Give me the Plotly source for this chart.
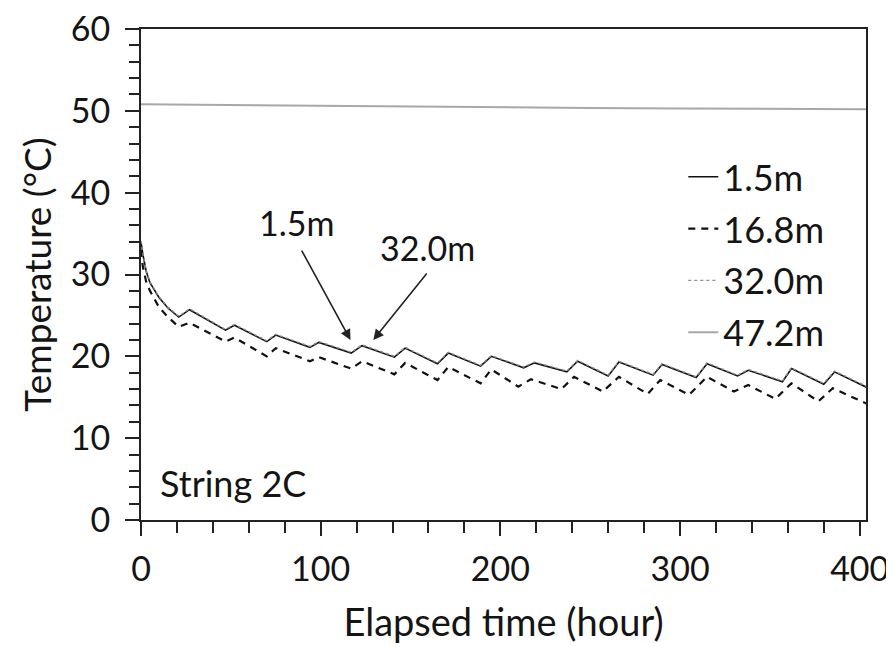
import plotly.graph_objects as go

# ---- data ----
t_15 = [0, 1, 3, 5, 10, 15, 21, 27, 47, 52, 70, 75, 94, 99, 117, 123, 141, 147, 165, 171,
        189, 195, 213, 219, 237, 243, 260, 266, 285, 290, 309, 315, 332, 338, 357, 362, 380, 386, 404]
v_15 = [34.0, 32.5, 30.3, 29.0, 27.2, 25.9, 24.8, 25.7, 23.2, 23.8, 21.8, 22.6, 21.1, 21.7, 20.4, 21.3,
        19.9, 21.0, 19.1, 20.4, 18.8, 20.0, 18.6, 19.2, 18.1, 19.4, 17.6, 19.3, 17.7, 19.0, 17.4, 19.1,
        17.6, 18.3, 16.9, 18.5, 16.6, 18.1, 16.2]

t_168 = [0, 1, 3, 5, 10, 15, 21, 27, 47, 52, 70, 75, 94, 99, 117, 123, 141, 147, 165, 171,
         189, 195, 210, 217, 234, 241, 257, 266, 282, 289, 305, 315, 330, 338, 353, 362, 377, 385, 404]
v_168 = [33.0, 31.0, 29.0, 28.0, 26.0, 24.8, 23.6, 24.1, 21.8, 22.3, 20.0, 21.0, 19.4, 19.9, 18.5, 19.4,
         17.8, 19.2, 17.1, 18.7, 16.7, 18.4, 16.3, 17.2, 16.0, 17.5, 15.7, 17.5, 15.4, 17.1, 15.3, 17.5,
         15.7, 16.5, 14.8, 16.7, 14.5, 16.1, 14.2]

t_320 = [0, 1, 3, 5, 10, 15, 21, 27, 47, 52, 70, 75, 94, 99, 117, 123, 141, 147, 165, 171,
         189, 195, 213, 219, 237, 243, 260, 266, 285, 290, 309, 315, 332, 338, 357, 362, 380, 386, 404]
v_320 = [34.1, 32.6, 30.4, 29.1, 27.3, 26.0, 24.9, 25.8, 23.3, 23.9, 21.9, 22.7, 21.2, 21.8, 20.5, 21.4,
         20.0, 21.1, 19.2, 20.5, 18.9, 20.1, 18.7, 19.3, 18.2, 19.5, 17.7, 19.4, 17.8, 19.1, 17.5, 19.2,
         17.7, 18.4, 17.0, 18.6, 16.7, 18.2, 16.3]

t_472 = [0, 50, 100, 150, 200, 250, 300, 350, 404]
v_472 = [50.8, 50.7, 50.6, 50.5, 50.4, 50.35, 50.3, 50.25, 50.2]

x_ticks = [0, 100, 200, 300, 400]
y_ticks = [0, 10, 20, 30, 40, 50, 60]

FONT = "Lato"
INK = "#141414"

fig = go.Figure()
fig.add_trace(go.Scatter(x=t_15, y=v_15, mode="lines", name="1.5m", legendgroup="a",
                         line=dict(color="#111111", width=1.6)))
fig.add_trace(go.Scatter(x=t_168, y=v_168, mode="lines", name="16.8m", legendgroup="b",
                         line=dict(color="#111111", width=2.2, dash="7px,6px")))
fig.add_trace(go.Scatter(x=t_320, y=v_320, mode="lines", name="32.0m", legendgroup="c",
                         line=dict(color="#8c8c8c", width=1.4, dash="dot")))
fig.add_trace(go.Scatter(x=t_472, y=v_472, mode="lines", name="47.2m", legendgroup="d",
                         line=dict(color="#a8a8a8", width=2)))

# arrows (empty-text annotations)
fig.add_annotation(x=116.6, y=22.0, ax=89, ay=33.1, axref="x", ayref="y", text="",
                   showarrow=True, arrowhead=2, arrowsize=1.3, arrowwidth=1.6, arrowcolor="#222222")
fig.add_annotation(x=129.3, y=22.0, ax=159.7, ay=30.3, axref="x", ayref="y", text="",
                   showarrow=True, arrowhead=2, arrowsize=1.3, arrowwidth=1.6, arrowcolor="#222222")
fig.add_annotation(x=86.7, y=36.3, text="1.5m", showarrow=False,
                   font=dict(family=FONT, size=34, color=INK))
fig.add_annotation(x=159.7, y=33.3, text="32.0m", showarrow=False,
                   font=dict(family=FONT, size=34, color=INK))
fig.add_annotation(x=9.5, y=4.5, text="String 2C", showarrow=False, xanchor="left",
                   font=dict(family=FONT, size=36, color=INK))

fig.update_layout(
    width=886, height=639,
    margin=dict(l=133, r=28, t=21, b=127),
    plot_bgcolor="white", paper_bgcolor="white",
    font=dict(family=FONT, size=34, color=INK),
    showlegend=True,
    legend=dict(x=0.748, y=0.76, xanchor="left", yanchor="top",
                bgcolor="rgba(0,0,0,0)", font=dict(family=FONT, size=36, color=INK),
                traceorder="grouped", tracegroupgap=2, itemwidth=30),
    xaxis=dict(range=[0, 403.5], tickvals=x_ticks, ticks="outside", ticklen=14, tickwidth=2,
               tickcolor="#222222", showline=True, linecolor="#222222", linewidth=2, mirror=True,
               showgrid=False, zeroline=False, automargin=False, ticklabelstandoff=4,
               ticklabeloverflow="allow",
               minor=dict(dtick=20, ticks="outside", ticklen=11, tickwidth=2, tickcolor="#222222"),
               title=dict(text="Elapsed time (hour)", font=dict(family=FONT, size=38), standoff=23),
               tickfont=dict(family=FONT, size=34)),
    yaxis=dict(range=[0, 60], tickvals=y_ticks, ticks="outside", ticklen=14, tickwidth=2,
               tickcolor="#222222", showline=True, linecolor="#222222", linewidth=2, mirror=True,
               showgrid=False, zeroline=False, automargin=False, ticklabelstandoff=8,
               ticklabeloverflow="allow",
               minor=dict(dtick=2, ticks="outside", ticklen=10, tickwidth=2, tickcolor="#222222"),
               title=dict(text="Temperature (°C)", font=dict(family=FONT, size=37), standoff=8),
               tickfont=dict(family=FONT, size=34)),
)

fig.write_html("out.html")
